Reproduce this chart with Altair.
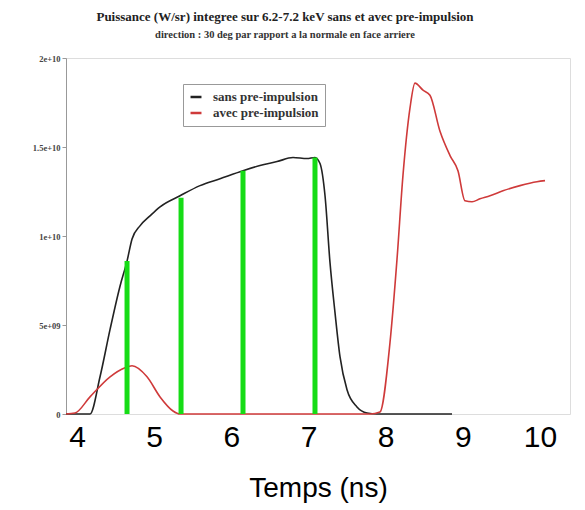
import altair as alt
import pandas as pd

# --- data ---
sans_x = [3.857, 4.168, 4.298, 4.428, 4.557, 4.648, 4.713, 4.816, 4.946, 5.076, 5.335,
          5.594, 5.853, 6.151, 6.371, 6.592, 6.799, 6.98, 7.084, 7.149, 7.214, 7.278,
          7.343, 7.408, 7.499, 7.628, 7.758, 7.888, 8.86]
sans_y = [0, 0, 2.09e9, 4.75e9, 7.18e9, 8.59e9, 9.83e9, 1.057e10, 1.113e10, 1.164e10, 1.226e10,
          1.283e10, 1.322e10, 1.367e10, 1.396e10, 1.418e10, 1.441e10, 1.435e10, 1.441e10,
          1.407e10, 1.226e10, 8.53e9, 5.71e9, 3.22e9, 1.36e9, 3.96e8, 5.7e7, 0, 0]

avec_x = [3.857, 3.974, 4.168, 4.428, 4.622, 4.713, 4.907, 5.076, 5.244, 5.335, 7.797,
          7.926, 8.056, 8.147, 8.224, 8.315, 8.38, 8.484, 8.574, 8.704, 8.834, 8.937,
          9.028, 9.119, 9.222, 9.352, 9.52, 9.741, 9.961, 10.065]
avec_y = [0, 5.7e7, 9.6e8, 2.09e9, 2.6e9, 2.71e9, 2.09e9, 9.6e8, 1.7e8, 0, 0,
          1.1e8, 4.01e9, 8.7e9, 1.339e10, 1.718e10, 1.859e10, 1.819e10, 1.791e10, 1.588e10,
          1.452e10, 1.367e10, 1.198e10, 1.192e10, 1.209e10, 1.226e10, 1.254e10, 1.283e10,
          1.305e10, 1.311e10]

green_x = [4.648, 5.348, 6.151, 7.084]
green_top = [8.59e9, 1.215e10, 1.367e10, 1.441e10]

series_names = ["sans pre-impulsion", "avec pre-impulsion"]
x_ticks = [4, 5, 6, 7, 8, 9, 10]
y_ticks = [0, 5e9, 1e10, 1.5e10, 2e10]
y_labels = ["0", "5e+09", "1e+10", "1.5e+10", "2e+10"]

rows = []
for i, (xv, yv) in enumerate(zip(sans_x, sans_y)):
    rows.append({"t": xv, "p": yv, "serie": series_names[0], "o": i})
for i, (xv, yv) in enumerate(zip(avec_x, avec_y)):
    rows.append({"t": xv, "p": yv, "serie": series_names[1], "o": i})
df = pd.DataFrame(rows)
gdf = pd.DataFrame({"t": green_x, "top": green_top, "zero": [0] * len(green_x)})

xscale = alt.Scale(domain=[3.857, 10.389], nice=False, zero=False)
yscale = alt.Scale(domain=[0, 2e10], nice=False)

yexpr = " : ".join(
    f"datum.value == {v:g} ? '{l}'" for v, l in zip(y_ticks, y_labels)
) + " : ''"

lines = alt.Chart(df).mark_line(strokeWidth=1.6, interpolate="monotone").encode(
    x=alt.X("t:Q", scale=xscale,
            axis=alt.Axis(values=x_ticks, format="d", title="Temps (ns)", labelFont="Liberation Sans",
                          labelFontSize=30, labelColor="black", labelPadding=8,
                          ticks=False, domain=False, grid=False,
                          titleFont="Liberation Sans", titleFontSize=28, titleFontWeight="normal",
                          titleColor="black", titlePadding=22)),
    y=alt.Y("p:Q", scale=yscale,
            axis=alt.Axis(values=y_ticks, labelExpr=yexpr, title=None, labelFont="Liberation Serif",
                          labelFontSize=8.5, labelFontWeight="bold", labelColor="#444",
                          tickSize=4, tickColor="#999", domainColor="#999", grid=False,
                          labelPadding=2)),
    color=alt.Color("serie:N",
                    scale=alt.Scale(domain=series_names, range=["#222222", "#cf3a3a"]),
                    legend=alt.Legend(title=None, orient="none", legendX=117, legendY=26,
                                      symbolType="stroke", symbolStrokeWidth=2.5, symbolSize=120,
                                      labelFont="Liberation Serif", labelFontSize=13,
                                      labelFontWeight="bold", labelColor="#333",
                                      strokeColor="#999", fillColor="white", padding=6,
                                      rowPadding=2, labelLimit=220, labelOffset=10)),
    detail="serie:N",
    order="o:Q",
)

green = alt.Chart(gdf).mark_rule(strokeWidth=5, color="#16dc16").encode(
    x="t:Q", y="zero:Q", y2="top:Q"
)

chart = alt.layer(lines, green).properties(
    width=504, height=356,
    autosize=alt.AutoSizeParams(type="none"),
    padding={"left": 66, "top": 58, "right": 15, "bottom": 96},
    title=alt.TitleParams(
        text="Puissance (W/sr) integree sur 6.2-7.2 keV sans et avec pre-impulsion",
        subtitle="direction : 30 deg par rapport a la normale en face arriere",
        font="Liberation Serif", fontSize=13, fontWeight="bold", color="#222",
        subtitleFont="Liberation Serif", subtitleFontSize=10.5, subtitleFontWeight="bold",
        subtitleColor="#333", anchor="middle", dx=-33, offset=14, subtitlePadding=6,
    ),
).configure_view(stroke="#999", strokeWidth=1.5).configure(background="white")

chart.save("out.html", embed_options={"renderer": "svg", "actions": False})
